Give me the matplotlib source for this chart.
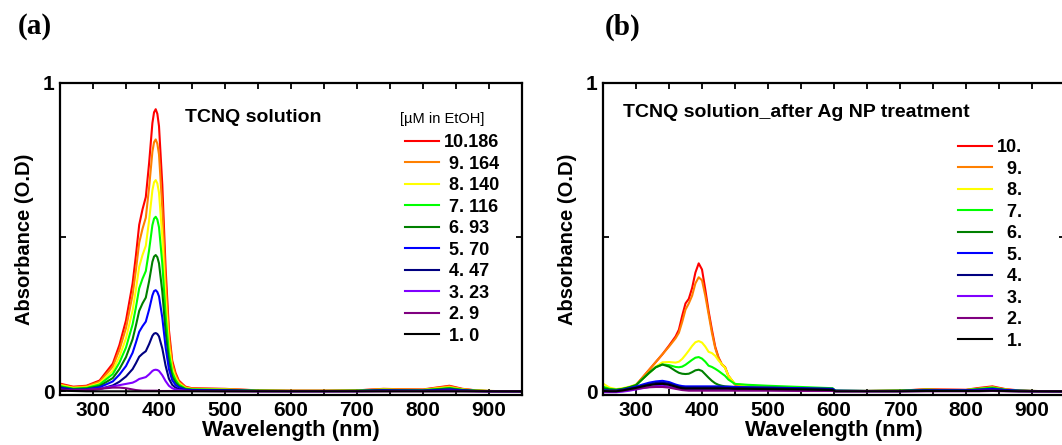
import matplotlib
matplotlib.use("Agg")
import matplotlib.pyplot as plt
from matplotlib.ticker import MultipleLocator, FixedLocator

plt.rcParams['font.family'] = ['Liberation Sans', 'DejaVu Sans']
plt.rcParams['font.weight'] = 'bold'

# ---------------- data ----------------
x_ticks = [300, 400, 500, 600, 700, 800, 900]
y_ticks = [0, 0.5, 1]
y_ticklabels = ['0', '', '1']

colors = ['#ff0000', '#ff8000', '#ffff00', '#00ff00', '#008000',
          '#0000ff', '#000080', '#8000ff', '#800080', '#000000']

labels_a = ['10.186', ' 9. 164', ' 8. 140', ' 7. 116', ' 6. 93',
            ' 5. 70', ' 4. 47', ' 3. 23', ' 2. 9', ' 1. 0']
labels_b = ['10.', '  9.', '  8.', '  7.', '  6.', '  5.', '  4.', '  3.', '  2.', '  1.']

# Panel (a): TCNQ solution
wl_a = [250, 270, 290, 310, 330, 340, 350, 360, 365, 370, 375, 380, 385, 390, 392.5, 395, 397.5,
        400, 405, 410, 415, 420, 425, 430, 440, 450, 500, 550, 600, 650, 700, 740,
        760, 800, 820, 840, 860, 880, 900, 950]
a10 = [0.025, 0.015, 0.018, 0.035, 0.09, 0.15, 0.23, 0.35, 0.44, 0.54, 0.59, 0.63, 0.74, 0.87, 0.905, 0.915, 0.90,
       0.86, 0.67, 0.40, 0.20, 0.10, 0.06, 0.035, 0.015, 0.01, 0.008, 0.003, 0.002, 0.002, 0.003, 0.008,
       0.007, 0.006, 0.012, 0.018, 0.008, 0.003, 0.001, 0.0]
a9 = [0.022, 0.013, 0.016, 0.031, 0.08, 0.134, 0.205, 0.313, 0.393, 0.482, 0.527, 0.563, 0.661, 0.777, 0.808, 0.817, 0.803,
      0.768, 0.595, 0.357, 0.179, 0.089, 0.054, 0.031, 0.013, 0.009, 0.007, 0.003, 0.002, 0.002, 0.003, 0.007,
      0.006, 0.005, 0.011, 0.016, 0.007, 0.003, 0.001, 0.0]
a8 = [0.02, 0.011, 0.013, 0.026, 0.067, 0.112, 0.172, 0.262, 0.33, 0.404, 0.442, 0.472, 0.554, 0.652, 0.678, 0.685, 0.674,
      0.644, 0.5, 0.3, 0.15, 0.075, 0.045, 0.026, 0.011, 0.0075, 0.006, 0.002, 0.0015, 0.0015, 0.002, 0.006,
      0.005, 0.0045, 0.009, 0.013, 0.006, 0.002, 0.001, 0.0]
a7 = [0.017, 0.009, 0.011, 0.022, 0.056, 0.093, 0.142, 0.217, 0.272, 0.334, 0.365, 0.39, 0.458, 0.539, 0.56, 0.566, 0.557,
      0.532, 0.414, 0.248, 0.124, 0.062, 0.037, 0.022, 0.009, 0.006, 0.005, 0.002, 0.001, 0.001, 0.002, 0.005,
      0.004, 0.004, 0.007, 0.011, 0.005, 0.002, 0.001, 0.0]
a6 = [0.014, 0.007, 0.009, 0.017, 0.043, 0.072, 0.111, 0.169, 0.213, 0.261, 0.285, 0.304, 0.357, 0.42, 0.437, 0.442, 0.435,
      0.415, 0.323, 0.193, 0.097, 0.048, 0.029, 0.017, 0.007, 0.005, 0.004, 0.0015, 0.001, 0.001, 0.0015, 0.004,
      0.0035, 0.003, 0.006, 0.009, 0.004, 0.0015, 0.0005, 0.0]
a5 = [0.012, 0.005, 0.006, 0.013, 0.032, 0.054, 0.082, 0.125, 0.158, 0.193, 0.211, 0.226, 0.265, 0.311, 0.325, 0.328, 0.322,
      0.308, 0.239, 0.143, 0.072, 0.036, 0.021, 0.013, 0.005, 0.004, 0.003, 0.001, 0.001, 0.001, 0.001, 0.003,
      0.0025, 0.002, 0.004, 0.006, 0.003, 0.001, 0.0005, 0.0]
a4 = [0.01, 0.003, 0.004, 0.007, 0.019, 0.031, 0.048, 0.072, 0.091, 0.112, 0.122, 0.13, 0.153, 0.18, 0.187, 0.189, 0.186,
      0.178, 0.139, 0.083, 0.041, 0.021, 0.012, 0.007, 0.003, 0.002, 0.002, 0.001, 0.0005, 0.0005, 0.001, 0.002,
      0.0015, 0.001, 0.0025, 0.004, 0.002, 0.001, 0.0, 0.0]
a3 = [0.006, 0.003, 0.004, 0.008, 0.016, 0.02, 0.024, 0.028, 0.033, 0.04, 0.043, 0.046, 0.055, 0.066, 0.069, 0.07, 0.069,
      0.066, 0.052, 0.033, 0.018, 0.01, 0.006, 0.004, 0.002, 0.001, 0.001, 0.0, 0.0, 0.0, 0.0, 0.001,
      0.001, 0.001, 0.001, 0.002, 0.001, 0.0, 0.0, 0.0]
a2 = [0.004, 0.003, 0.004, 0.008, 0.012, 0.012, 0.01, 0.006, 0.004, 0.003, 0.002, 0.002, 0.002, 0.002, 0.002, 0.002, 0.002,
      0.001, 0.001, 0.001, 0.001, 0.001, 0.001, 0.001, 0.001, 0.001, 0.0, 0.0, 0.0, 0.0, 0.0, 0.0,
      0.0, 0.0, 0.0, 0.0, 0.0, 0.0, 0.0, 0.0]
a1 = [0.002, 0.001, 0.0, 0.0, 0.0, 0.0, 0.0, 0.0, 0.0, 0.0, 0.0, 0.0, 0.0, 0.0, 0.0, 0.0, 0.0,
      0.0, 0.0, 0.0, 0.0, 0.0, 0.0, 0.0, 0.0, 0.0, 0.0, 0.0, 0.0, 0.0, 0.0, 0.0,
      0.0, 0.0, 0.0, 0.0, 0.0, 0.0, 0.0, 0.0]

# Panel (b): TCNQ solution after Ag NP treatment
wl_b = [250, 260, 270, 280, 290, 300, 310, 320, 330, 340,
        350, 360, 365, 370, 375, 380, 385, 390, 395, 400,
        405, 410, 415, 420, 425, 430, 435, 440, 450, 470,
        500, 550, 598, 602, 650, 700, 740, 760, 800, 820,
        840, 860, 880, 900, 950]
b10 = [0.012, 0.006, 0.004, 0.006, 0.012, 0.02, 0.045, 0.07, 0.095, 0.12,
       0.148, 0.178, 0.2, 0.245, 0.285, 0.3, 0.335, 0.385, 0.415, 0.395,
       0.33, 0.26, 0.2, 0.145, 0.11, 0.088, 0.078, 0.05, 0.022, 0.018,
       0.015, 0.01, 0.006, 0.001, 0.001, 0.002, 0.007, 0.006, 0.005, 0.011,
       0.016, 0.007, 0.003, 0.001, 0.0]
b9 = [0.012, 0.006, 0.004, 0.006, 0.012, 0.02, 0.045, 0.07, 0.095, 0.12,
      0.145, 0.172, 0.19, 0.225, 0.265, 0.285, 0.31, 0.35, 0.37, 0.36,
      0.31, 0.25, 0.19, 0.14, 0.108, 0.087, 0.077, 0.05, 0.022, 0.018,
      0.015, 0.01, 0.006, 0.001, 0.001, 0.002, 0.006, 0.005, 0.004, 0.009,
      0.014, 0.006, 0.002, 0.001, 0.0]
b8 = [0.025, 0.012, 0.007, 0.01, 0.015, 0.022, 0.04, 0.06, 0.08, 0.094,
      0.095, 0.093, 0.096, 0.105, 0.118, 0.132, 0.147, 0.159, 0.163, 0.158,
      0.145, 0.128, 0.124, 0.115, 0.1, 0.088, 0.076, 0.05, 0.024, 0.019,
      0.015, 0.011, 0.007, 0.001, 0.001, 0.002, 0.005, 0.004, 0.004, 0.008,
      0.012, 0.005, 0.002, 0.001, 0.0]
b7 = [0.015, 0.008, 0.005, 0.008, 0.013, 0.02, 0.04, 0.06, 0.078, 0.087,
      0.085, 0.079, 0.078, 0.08, 0.086, 0.094, 0.102, 0.109, 0.111, 0.106,
      0.096, 0.083, 0.079, 0.073, 0.066, 0.058, 0.05, 0.038, 0.024, 0.021,
      0.018, 0.014, 0.01, 0.002, 0.001, 0.002, 0.005, 0.004, 0.004, 0.008,
      0.012, 0.005, 0.002, 0.001, 0.0]
b6 = [0.01, 0.006, 0.005, 0.008, 0.013, 0.02, 0.04, 0.06, 0.078, 0.087,
      0.08, 0.066, 0.06, 0.057, 0.056, 0.057, 0.062, 0.068, 0.07, 0.066,
      0.055, 0.044, 0.034, 0.026, 0.021, 0.018, 0.016, 0.015, 0.014, 0.013,
      0.012, 0.01, 0.008, 0.002, 0.001, 0.002, 0.004, 0.003, 0.003, 0.006,
      0.009, 0.004, 0.002, 0.001, 0.0]
b5 = [0.004, 0.002, 0.002, 0.005, 0.01, 0.015, 0.022, 0.028, 0.032, 0.034,
      0.03, 0.022, 0.019, 0.017, 0.016, 0.016, 0.016, 0.016, 0.016, 0.016,
      0.016, 0.016, 0.016, 0.016, 0.016, 0.015, 0.015, 0.015, 0.014, 0.013,
      0.012, 0.01, 0.008, 0.002, 0.001, 0.001, 0.003, 0.003, 0.003, 0.005,
      0.008, 0.004, 0.002, 0.001, 0.0]
b4 = [0.002, 0.001, 0.001, 0.004, 0.008, 0.012, 0.018, 0.023, 0.027, 0.028,
      0.025, 0.018, 0.015, 0.013, 0.012, 0.012, 0.012, 0.012, 0.012, 0.012,
      0.012, 0.012, 0.012, 0.012, 0.012, 0.012, 0.011, 0.011, 0.011, 0.01,
      0.01, 0.008, 0.006, 0.001, 0.001, 0.001, 0.002, 0.002, 0.002, 0.003,
      0.005, 0.002, 0.001, 0.0, 0.0]
b3 = [-0.003, -0.003, -0.003, -0.001, 0.002, 0.006, 0.01, 0.014, 0.017, 0.018,
      0.015, 0.01, 0.008, 0.006, 0.005, 0.005, 0.005, 0.005, 0.005, 0.005,
      0.005, 0.005, 0.005, 0.005, 0.005, 0.005, 0.005, 0.005, 0.005, 0.004,
      0.004, 0.003, 0.002, 0.0, 0.0, 0.0, 0.001, 0.001, 0.001, 0.002,
      0.003, 0.001, 0.0, 0.0, 0.0]
b2 = [0.0, 0.0, 0.0, 0.002, 0.005, 0.008, 0.011, 0.013, 0.014, 0.014,
      0.012, 0.008, 0.006, 0.004, 0.003, 0.002, 0.002, 0.002, 0.002, 0.002,
      0.002, 0.002, 0.002, 0.002, 0.002, 0.002, 0.002, 0.002, 0.002, 0.002,
      0.002, 0.001, 0.001, 0.0, 0.0, 0.0, 0.0, 0.0, 0.0, 0.0,
      0.001, 0.0, 0.0, 0.0, 0.0]
b1 = [0.001, 0.0, 0.0, 0.003, 0.007, 0.011, 0.016, 0.02, 0.023, 0.024,
      0.021, 0.015, 0.012, 0.01, 0.009, 0.009, 0.009, 0.009, 0.009, 0.009,
      0.009, 0.009, 0.009, 0.009, 0.009, 0.009, 0.009, 0.009, 0.008, 0.008,
      0.007, 0.006, 0.004, 0.0, 0.0, 0.0, 0.001, 0.001, 0.001, 0.001,
      0.002, 0.001, 0.0, 0.0, 0.0]

series_a = [a10, a9, a8, a7, a6, a5, a4, a3, a2, a1]
series_b = [b10, b9, b8, b7, b6, b5, b4, b3, b2, b1]

# ---------------- figure ----------------
W, H = 1062, 445
fig = plt.figure(figsize=(W / 100, H / 100), dpi=100)
ax_a = fig.add_axes([60 / W, 50 / H, 462 / W, 312 / H])
ax_b = fig.add_axes([603 / W, 50 / H, 462 / W, 312 / H])


def style(ax):
    ax.set_xlim(250, 950)
    ax.set_ylim(-0.012, 1.0)
    ax.xaxis.set_major_locator(FixedLocator(x_ticks))
    ax.xaxis.set_minor_locator(MultipleLocator(50))
    ax.set_yticks(y_ticks)
    ax.set_yticklabels(y_ticklabels)
    ax.tick_params(which='both', direction='in', top=True, right=True,
                   width=1.3, length=4.5, labelsize=15, pad=4)
    for lab in ax.get_xticklabels() + ax.get_yticklabels():
        lab.set_fontweight('bold')
    for sp in ax.spines.values():
        sp.set_linewidth(1.6)
    ax.set_xlabel('Wavelength (nm)', fontsize=16, fontweight='bold', labelpad=0)
    ax.set_ylabel('Absorbance (O.D)', fontsize=14.5, fontweight='bold', labelpad=6)


for ax, wl, series, labels in [(ax_a, wl_a, series_a, labels_a), (ax_b, wl_b, series_b, labels_b)]:
    for y, c, lab in zip(series, colors, labels):
        ax.plot(wl, y, color=c, lw=1.5, label=lab, solid_joinstyle='round')
    style(ax)

legend_kw = dict(loc='upper left', frameon=False, prop={'size': 13, 'weight': 'bold'},
                 handlelength=1.9, handletextpad=0.25, labelspacing=0.25,
                 borderpad=0, borderaxespad=0)
ax_a.legend(bbox_to_anchor=((405 - 60) / 462, (395 - 134) / 312), **legend_kw)
ax_b.legend(bbox_to_anchor=((958 - 603) / 462, (395 - 139) / 312), **legend_kw)

ax_a.text((400 - 60) / 462, (395 - 119) / 312, '[µM in EtOH]', transform=ax_a.transAxes,
          fontsize=10.5, fontweight='normal', va='center', ha='left')

ax_a.text(0.27, 0.891, 'TCNQ solution', transform=ax_a.transAxes,
          fontsize=14, fontweight='bold', va='center', ha='left')
ax_b.text(0.043, 0.904, 'TCNQ solution_after Ag NP treatment', transform=ax_b.transAxes,
          fontsize=14, fontweight='bold', va='center', ha='left')

fig.text(18 / W, 1 - 27 / H, '(a)', family='Liberation Serif', fontsize=21,
         fontweight='bold', va='center', ha='left')
fig.text(605 / W, 1 - 27 / H, '(b)', family='Liberation Serif', fontsize=21,
         fontweight='bold', va='center', ha='left')

fig.savefig('out.png', dpi=100)
